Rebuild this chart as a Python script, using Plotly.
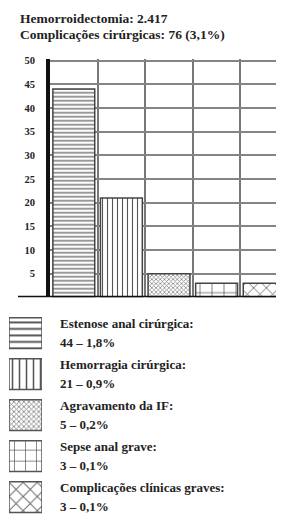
import plotly.graph_objects as go

# ---- data ----
categorias = ["Estenose anal cirúrgica", "Hemorragia cirúrgica", "Agravamento da IF",
              "Sepse anal grave", "Complicações clínicas graves"]
casos = [44, 21, 5, 3, 3]
percentagens = ["1,8%", "0,9%", "0,2%", "0,1%", "0,1%"]
titulo_l1 = "Hemorroidectomia: 2.417"
titulo_l2 = "Complicações cirúrgicas: 76 (3,1%)"
y_ticks = [5, 10, 15, 20, 25, 30, 35, 40, 45, 50]

# ---- styles ----
shapes_p = ["-", "|", "x", "+", "x"]
sizes_bar = [4, 5, 3, 12, 9]
sizes_leg = [6.5, 7, 3.5, 11, 10]
solid_p = [0.3, 0.22, 0.45, 0.12, 0.18]
fg_p = ["#555", "#555", "#888", "#555", "#666"]
FONT = "Liberation Serif"

W, H = 284, 520
fig = go.Figure()


def pattern(sizes):
    return dict(shape=shapes_p, size=sizes, solidity=solid_p, fgcolor=fg_p,
                bgcolor="white", fillmode="replace")


fig.add_trace(go.Bar(x=categorias, y=casos, width=0.88,
                     marker=dict(color="white", pattern=pattern(sizes_bar),
                                 line=dict(color="#444", width=1.5)),
                     xaxis="x", yaxis="y", showlegend=False, hoverinfo="skip"))

# legend swatches as a small bar subplot
fig.add_trace(go.Bar(x=[1] * len(categorias), y=categorias, orientation="h", width=0.75,
                     marker=dict(color="white", pattern=pattern(sizes_leg),
                                 line=dict(color="#555", width=1.5)),
                     xaxis="x2", yaxis="y2", showlegend=False, hoverinfo="skip"))

top_px, bot_px = 48, 288
fig.update_layout(
    width=W, height=H, margin=dict(l=0, r=0, t=0, b=0),
    paper_bgcolor="white", plot_bgcolor="white",
    font=dict(family=FONT, color="#222"),
    xaxis=dict(domain=[42 / W, 280 / W], type="category", showticklabels=False,
               showgrid=True, gridcolor="#777", gridwidth=1.5, tickson="boundaries",
               ticks="", zeroline=False, showline=False, fixedrange=True),
    yaxis=dict(domain=[1 - bot_px / H, 1 - top_px / H], range=[0, 50.4],
               tickvals=y_ticks, ticks="", ticklabelstandoff=9,
               tickfont=dict(family=FONT, size=10.5, weight="bold", color="#222"),
               showgrid=True, gridcolor="#858585", gridwidth=1.6,
               zeroline=False, showline=True, linecolor="#111", linewidth=4),
    xaxis2=dict(domain=[1 / W, 34 / W], range=[0, 1], visible=False, fixedrange=True),
    yaxis2=dict(domain=[1 - 509.6 / H, 1 - 303.4 / H], type="category",
                range=[len(categorias) - 0.5, -0.5], visible=False),
)

# baseline extending left of the axis
fig.add_shape(type="line", xref="paper", yref="y", x0=10 / W, x1=1, y0=0, y1=0,
              line=dict(color="#111", width=3), layer="above")

ann = [
    dict(text=titulo_l1, x=10 / W, y=1 - 8 / H),
    dict(text=titulo_l2, x=10 / W, y=1 - 24 / H),
]
for a in ann:
    fig.add_annotation(xref="paper", yref="paper", xanchor="left", yanchor="middle",
                       showarrow=False, font=dict(family=FONT, size=13.5, weight="bold",
                                                  color="#222"), **a)

for cat, n, p in zip(categorias, casos, percentagens):
    for txt, shift in ((cat + ":", 9.5), (f"{n} – {p}", -9.5)):
        fig.add_annotation(xref="paper", yref="y2", x=50 / W, y=cat, yshift=shift,
                           text=txt, xanchor="left", yanchor="middle", showarrow=False,
                           font=dict(family=FONT, size=13, weight="bold", color="#222"))

fig.write_html("out.html")
